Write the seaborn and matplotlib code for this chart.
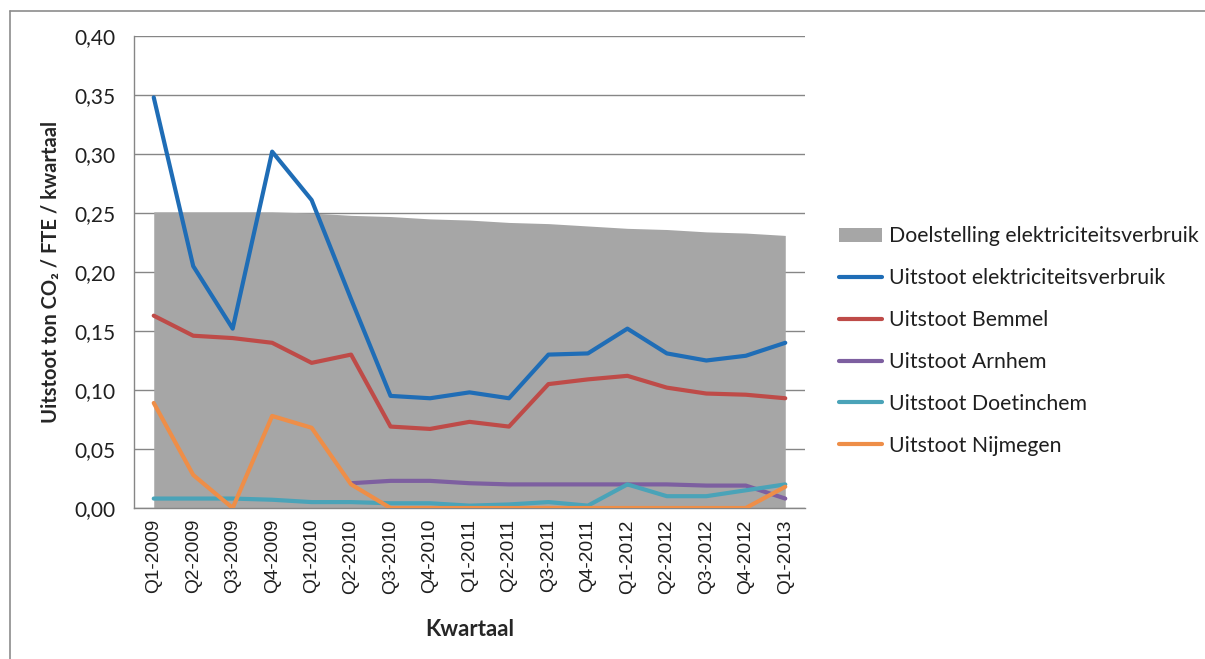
import numpy as np
import pandas as pd
import matplotlib
matplotlib.use("Agg")
import matplotlib.pyplot as plt
from matplotlib.lines import Line2D
from matplotlib.patches import Patch
from matplotlib.ticker import FuncFormatter, FixedLocator
import seaborn as sns

quarters = ["Q1-2009", "Q2-2009", "Q3-2009", "Q4-2009", "Q1-2010", "Q2-2010",
            "Q3-2010", "Q4-2010", "Q1-2011", "Q2-2011", "Q3-2011", "Q4-2011",
            "Q1-2012", "Q2-2012", "Q3-2012", "Q4-2012", "Q1-2013"]

doelstelling = [0.251, 0.251, 0.251, 0.251, 0.250, 0.248, 0.247, 0.245, 0.244,
                0.242, 0.241, 0.239, 0.237, 0.236, 0.234, 0.233, 0.231]
elektriciteit = [0.348, 0.205, 0.152, 0.302, 0.261, 0.177, 0.095, 0.093, 0.098,
                 0.093, 0.130, 0.131, 0.152, 0.131, 0.125, 0.129, 0.140]
bemmel = [0.163, 0.146, 0.144, 0.140, 0.123, 0.130, 0.069, 0.067, 0.073,
          0.069, 0.105, 0.109, 0.112, 0.102, 0.097, 0.096, 0.093]
arnhem = [np.nan, np.nan, np.nan, np.nan, np.nan, 0.021, 0.023, 0.023, 0.021,
          0.020, 0.020, 0.020, 0.020, 0.020, 0.019, 0.019, 0.008]
doetinchem = [0.008, 0.008, 0.008, 0.007, 0.005, 0.005, 0.004, 0.004, 0.002,
              0.003, 0.005, 0.002, 0.020, 0.010, 0.010, 0.015, 0.020]
nijmegen = [0.089, 0.028, 0.000, 0.078, 0.068, 0.020, 0.000, 0.000, 0.000,
            0.000, 0.000, 0.000, 0.000, 0.000, 0.000, 0.000, 0.018]

series_names = ["Uitstoot elektriciteitsverbruik", "Uitstoot Bemmel",
                "Uitstoot Arnhem", "Uitstoot Doetinchem", "Uitstoot Nijmegen"]
series_values = [elektriciteit, bemmel, arnhem, doetinchem, nijmegen]
series_colors = ["#1F6DB6", "#BE4B48", "#7D5FA0", "#4AA3B8", "#EE8E48"]
area_name = "Doelstelling elektriciteitsverbruik"
area_color = "#A6A6A6"

sns.set_theme(style="white")
plt.rcParams["font.family"] = ["Lato", "DejaVu Sans"]

LW = 3.0
x = np.arange(len(quarters))
frames = []
for name, vals in zip(series_names, series_values):
    frames.append(pd.DataFrame({"pos": x, "waarde": vals, "reeks": name}))
df = pd.concat(frames, ignore_index=True)

fig = plt.figure(figsize=(12.05, 6.59), dpi=100)
ax = fig.add_axes([134 / 1205, 1 - 508 / 659, (805 - 134) / 1205, (508 - 36) / 659])

# target area
ax.fill_between(x, doelstelling, 0, color=area_color, linewidth=0, zorder=1)

sns.lineplot(data=df, x="pos", y="waarde", hue="reeks", hue_order=series_names,
             palette=dict(zip(series_names, series_colors)), linewidth=LW,
             legend=False, ax=ax, zorder=3)

ax.set_xlim(-0.5, len(quarters) - 0.5)
ax.set_ylim(0, 0.40)
ax.set_yticks(np.arange(0, 0.401, 0.05))
ax.yaxis.set_major_formatter(FuncFormatter(lambda v, p: f"{v:.2f}".replace(".", ",")))
ax.yaxis.grid(True, color="#868686", linewidth=1.0)
ax.set_axisbelow(True)

ax.set_xticks(x)
ax.set_xticklabels(quarters, rotation=90, fontfamily="Liberation Sans", fontsize=13.8)
ax.tick_params(axis="x", which="major", length=0, pad=8)
ax.xaxis.set_minor_locator(FixedLocator(np.arange(-0.5, len(quarters), 1.0)))
ax.tick_params(axis="x", which="minor", length=7, width=1, color="#868686", direction="out")
ax.tick_params(axis="y", length=7, width=1, color="#868686", direction="out",
               labelsize=15, pad=6, labelcolor="#1F1F1F")
ax.tick_params(axis="x", labelcolor="#1F1F1F")

for side in ["top", "right"]:
    ax.spines[side].set_visible(False)
for side in ["left", "bottom"]:
    ax.spines[side].set_color("#868686")
    ax.spines[side].set_linewidth(1.0)

ax.set_xlabel("Kwartaal", fontsize=16, fontweight="bold", labelpad=18)
ax.set_ylabel("Uitstoot ton CO\u2082 / FTE / kwartaal", fontsize=14.5,
              fontweight="bold", labelpad=10)

handles = [Patch(facecolor=area_color, edgecolor="none", label=area_name)]
for name, col in zip(series_names, series_colors):
    handles.append(Line2D([0], [0], color=col, linewidth=LW, label=name))
fig.legend(handles=handles, loc="upper left", bbox_to_anchor=(833 / 1205, 1 - 220 / 659),
           frameon=False, fontsize=15.3, handlelength=2.0, handletextpad=0.33,
           labelspacing=1.03, labelcolor="#1F1F1F", borderaxespad=0, borderpad=0.3)

# chart border (left and top edges)
fig.add_artist(Line2D([10 / 1205, 10 / 1205], [0, 1 - 11 / 659],
                      transform=fig.transFigure, color="#8C8C8C", linewidth=1.2))
fig.add_artist(Line2D([10 / 1205, 1], [1 - 11 / 659, 1 - 11 / 659],
                      transform=fig.transFigure, color="#8C8C8C", linewidth=1.2))

fig.savefig("out.png", dpi=100)
